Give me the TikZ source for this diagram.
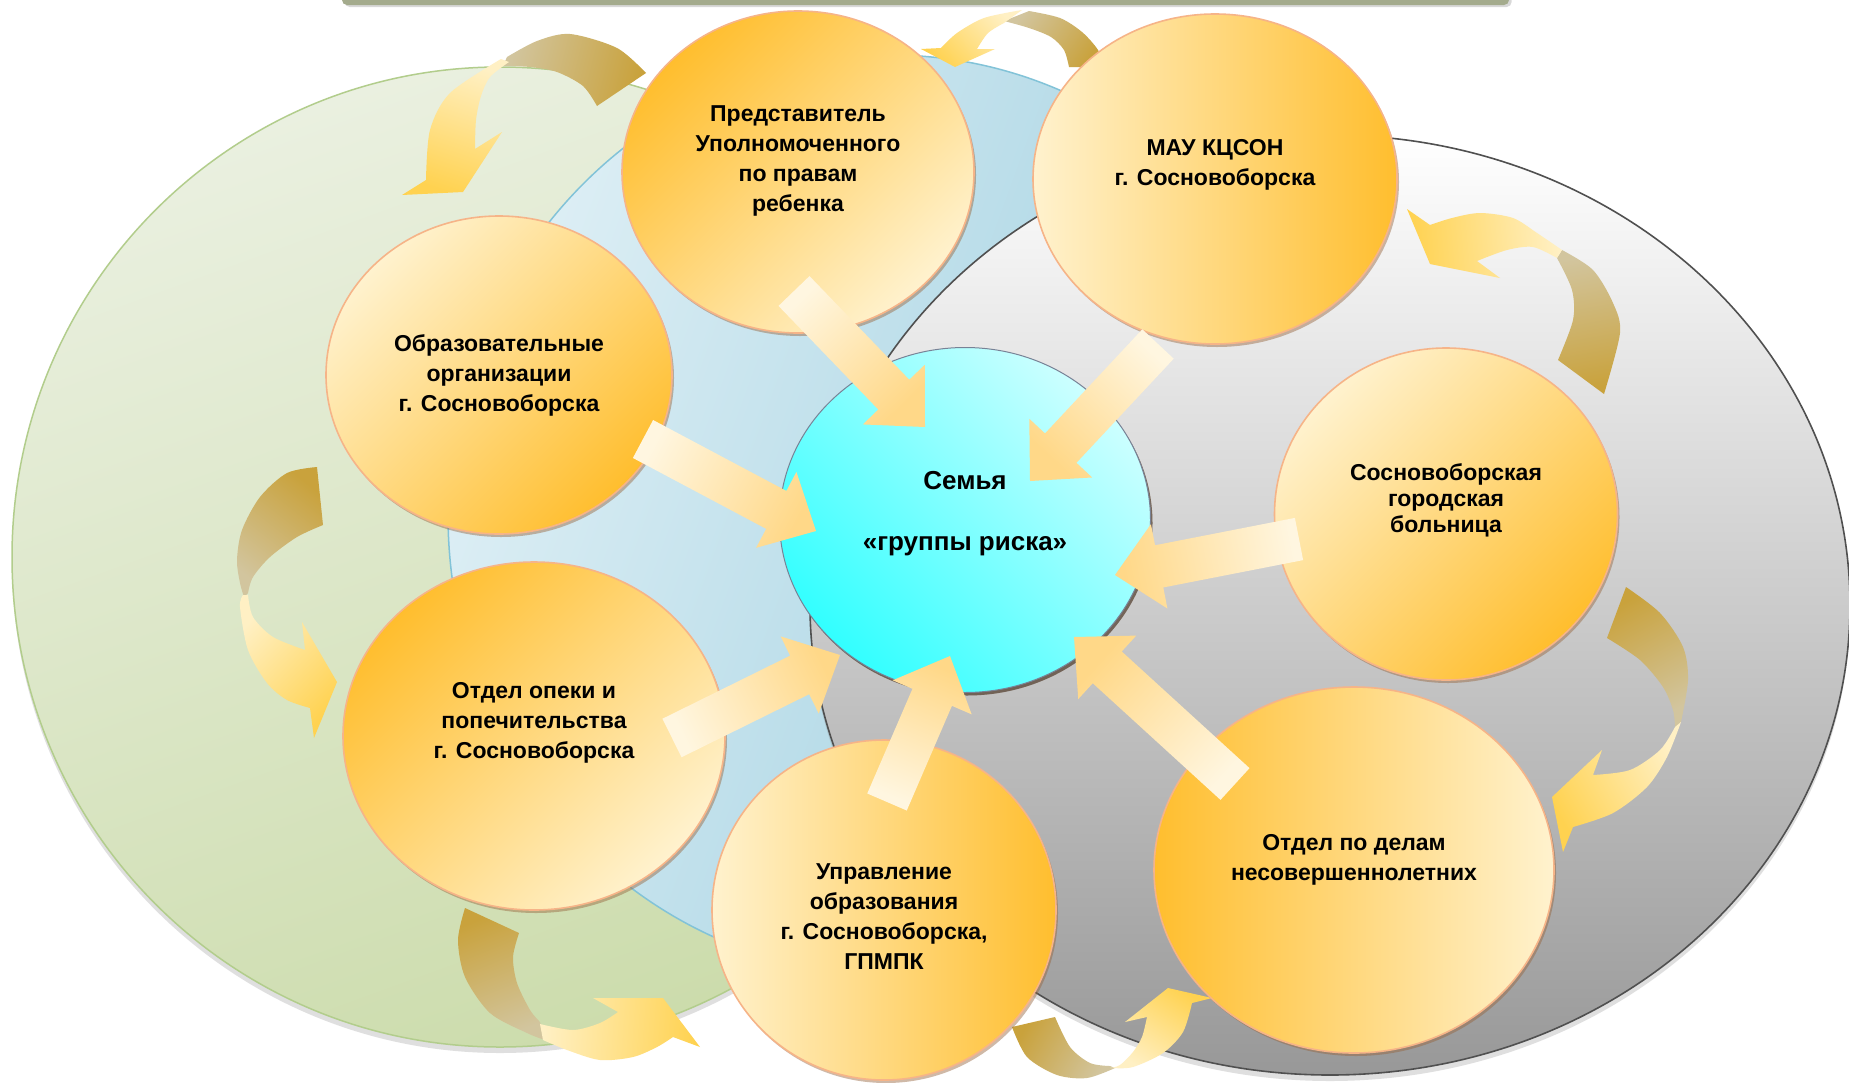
\documentclass[tikz,border=0pt]{standalone}
\usepackage{fontspec}
\setmainfont{Liberation Sans}
\usetikzlibrary{shapes.geometric,shadows,calc}

\definecolor{riskOrange}{RGB}{255,190,46}
\definecolor{riskCream}{RGB}{255,242,206}
\definecolor{riskEdge}{RGB}{246,180,136}
\definecolor{riskShadow}{RGB}{150,100,60}
\definecolor{riskCyan}{RGB}{50,255,255}
\definecolor{riskCyanLight}{RGB}{205,255,255}
\definecolor{riskCyanEdge}{RGB}{120,130,150}
\definecolor{riskGreenLight}{RGB}{234,240,224}
\definecolor{riskGreen}{RGB}{204,220,172}
\definecolor{riskGreenEdge}{RGB}{178,205,140}
\definecolor{riskBlueLight}{RGB}{222,239,245}
\definecolor{riskBlue}{RGB}{152,204,222}
\definecolor{riskBlueEdge}{RGB}{130,195,216}
\definecolor{riskGrey}{RGB}{152,152,152}
\definecolor{riskGreyEdge}{RGB}{80,80,80}
\definecolor{riskBar}{RGB}{164,171,141}
\definecolor{riskFlowTail}{RGB}{255,246,224}
\definecolor{riskFlowHead}{RGB}{255,216,136}
\definecolor{riskLoopBack}{RGB}{201,162,60}
\definecolor{riskLoopTan}{RGB}{210,197,158}
\definecolor{riskLoopPale}{RGB}{255,240,196}
\definecolor{riskLoopHead}{RGB}{255,210,80}

% text block raised inside its ellipse
\newcommand\lifted[2]{\raisebox{#1}[\height][\depth]{\begin{tabular}{@{}c@{}}#2\end{tabular}}}

% straight block arrow: tail, tip, shading angle
\newcommand\flowarrow[3]{%
  \path[flow, shading angle=#3]
    ($(#1)!21.5pt!90:(#2)$) -- ($(#2)!45pt!(#1)!21.5pt!-90:(#1)$) -- ($(#2)!45pt!(#1)!43pt!-90:(#1)$) -- (#2)
    -- ($(#2)!45pt!(#1)!43pt!90:(#1)$) -- ($(#2)!45pt!(#1)!21.5pt!90:(#1)$) -- ($(#1)!21.5pt!-90:(#2)$) -- cycle;}

\tikzset{
  agency/.style={ellipse, draw=riskEdge, line width=1.6pt, inner sep=0pt, text=black,
    font=\fontsize{23}{30}\selectfont\bfseries,
    drop shadow={shadow xshift=2pt, shadow yshift=-3pt, fill=riskShadow, opacity=.45}},
  orangeTL/.style={top color=riskOrange, bottom color=riskCream, shading angle=45},
  lightTL/.style={top color=riskCream, bottom color=riskOrange, shading angle=45},
  lightL/.style={left color=riskCream, right color=riskOrange},
  orangeL/.style={left color=riskOrange, right color=riskCream},
  flow/.style={top color=riskFlowHead, bottom color=riskFlowTail},
  loopback/.style={top color=riskLoopTan, bottom color=riskLoopBack},
  loopfront/.style={top color=riskLoopHead, bottom color=riskLoopPale}
}

\begin{document}
\begin{tikzpicture}[x=1pt, y=-1pt]
  \useasboundingbox (0,0) rectangle (1849,1082);
  \fill[white] (0,0) rectangle (1849,1082);

  % Top bar
  \fill[riskBar, rounded corners=5pt, drop shadow={shadow yshift=-2pt, opacity=.3}] (342,-12) rectangle (1509,5);

  % Backdrops
  \path[top color=riskGreenLight, bottom color=riskGreen, shading angle=20, draw=riskGreenEdge, line width=1.5pt,
    drop shadow={shadow xshift=0pt, shadow yshift=-6pt, opacity=.25}]
    (500,557) ellipse [x radius=488pt, y radius=490pt];
  \path[left color=riskBlueLight, right color=riskBlue, shading angle=70, draw=riskBlueEdge, line width=1.5pt]
    (890,515) ellipse [x radius=442pt, y radius=460pt];
  \path[top color=white, bottom color=riskGrey, draw=riskGreyEdge, line width=1.6pt,
    drop shadow={shadow xshift=0pt, shadow yshift=-6pt, opacity=.25}]
    (1330,605) ellipse [x radius=520pt, y radius=470pt];

  % Loop arrows between neighbours
  \path[loopback, shading angle=76] plot[smooth] coordinates {(646,73) (617,48) (570,34) (537,41) (507,57)}
    -- plot[smooth] coordinates {(503,66) (530,67) (557,72) (583,86) (597,106)} -- cycle;
  \path[loopfront, shading angle=162] plot[smooth] coordinates {(501,59) (450,93) (430,130) (426,180)}
    -- (402,195) -- (463,192) -- (502,132) -- plot[smooth] coordinates {(475,149) (476,120) (481,96) (490,77) (509,62)} -- cycle;

  \path[loopback, shading angle=55] plot[smooth] coordinates {(1104,67) (1098,50) (1082,32) (1060,18) (1029,11)}
    -- plot[smooth] coordinates {(1004,21) (1029,28) (1051,37) (1064,50) (1069,67)} -- cycle;
  \path[loopfront, shading angle=134] plot[smooth] coordinates {(1022,10) (984,18) (957,33) (941,48)}
    -- (921,49) -- (955,67) -- (995,49) -- plot[smooth] coordinates {(977,49) (988,33) (1004,23)} -- cycle;

  \path[loopback, shading angle=10] plot[smooth] coordinates {(1604,394) (1620,333) (1613,303) (1593,270) (1562,250)}
    -- plot[smooth] coordinates {(1557,258) (1572,290) (1573,320) (1558,360)} -- cycle;
  \path[loopfront, shading angle=95] plot[smooth] coordinates {(1562,250) (1537,233) (1513,218) (1480,213) (1452,218) (1430,225)}
    -- (1407,209) -- (1430,264) -- (1500,278) -- plot[smooth] coordinates {(1477,261) (1507,250) (1533,247) (1557,258)} -- cycle;

  \path[loopback, shading angle=-151] plot[smooth] coordinates {(1626,587) (1660,613) (1683,647) (1688,680) (1681,722)}
    -- plot[smooth] coordinates {(1675,727) (1673,710) (1663,687) (1640,660) (1607,638)} -- cycle;
  \path[loopfront, shading angle=120] plot[smooth] coordinates {(1681,722) (1667,757) (1647,787) (1613,813) (1573,827)}
    -- (1563,852) -- (1552,797) -- (1602,750) -- plot[smooth] coordinates {(1593,775) (1630,770) (1660,750) (1675,727)} -- cycle;

  \path[loopback, shading angle=-120] plot[smooth] coordinates {(1012,1027) (1027,1057) (1057,1075) (1087,1078) (1115,1068)}
    -- plot[smooth] coordinates {(1110,1066) (1090,1063) (1070,1047) (1055,1017)} -- cycle;
  \path[loopfront, shading angle=-34] plot[smooth] coordinates {(1113,1068) (1133,1067) (1163,1053) (1183,1032) (1192,1003)}
    -- (1212,998) -- (1168,988) -- (1125,1022) -- plot[smooth] coordinates {(1147,1017) (1142,1037) (1133,1052) (1120,1065) (1110,1068)} -- cycle;

  \path[loopback, shading angle=-158] plot[smooth] coordinates {(465,908) (458,940) (465,977) (490,1013) (527,1033) (545,1040)}
    -- plot[smooth] coordinates {(540,1022) (530,1010) (517,983) (513,957) (519,933)} -- cycle;
  \path[loopfront, shading angle=-94] plot[smooth] coordinates {(543,1040) (567,1050) (600,1060) (633,1057) (657,1047) (673,1037)}
    -- (700,1047) -- (663,998) -- (593,998) -- plot[smooth] coordinates {(618,1012) (600,1023) (573,1030) (540,1024)} -- cycle;

  \path[loopback, shading angle=142] plot[smooth] coordinates {(317,467) (287,473) (260,497) (242,530) (237,560) (240,583) (244,597)}
    -- plot[smooth] coordinates {(248,593) (253,577) (270,557) (297,537) (323,525)} -- cycle;
  \path[loopfront, shading angle=-133] plot[smooth] coordinates {(243,595) (240,607) (248,650) (267,683) (287,700) (310,708)}
    -- (314,738) -- (337,682) -- (302,622) -- plot[smooth] coordinates {(305,650) (273,637) (253,617) (248,595)} -- cycle;

  % Agencies
  \node[agency, orangeTL, minimum width=352pt, minimum height=322pt] (pred) at (798,172)
    {\lifted{12pt}{Представитель\\Уполномоченного\\по правам\\ребенка}};
  \node[agency, lightL, minimum width=364pt, minimum height=330pt] (mau) at (1215,179)
    {\lifted{15pt}{МАУ КЦСОН\\г. Сосновоборска}};
  \node[agency, lightTL, minimum width=346pt, minimum height=318pt] (obr) at (499,375)
    {\lifted{0pt}{Образовательные\\организации\\г. Сосновоборска}};
  \node[agency, lightTL, minimum width=343pt, minimum height=332pt, font=\fontsize{23}{26}\selectfont\bfseries] (bol) at (1446,514)
    {\lifted{13pt}{Сосновоборская\\городская\\больница}};
  \node[agency, orangeTL, minimum width=382pt, minimum height=348pt] (opeka) at (534,736)
    {\lifted{14pt}{Отдел опеки и\\попечительства\\г. Сосновоборска}};
  \node[agency, lightL, minimum width=344pt, minimum height=340pt] (upr) at (884,910)
    {\lifted{-8pt}{Управление\\образования\\г. Сосновоборска,\\ГПМПК}};
  \node[agency, orangeL, minimum width=400pt, minimum height=366pt] (otd) at (1354,870)
    {\lifted{11pt}{Отдел по делам\\несовершеннолетних}};

  % Family
  \node[agency, draw=riskCyanEdge, line width=1pt, top color=riskCyanLight, bottom color=riskCyan, shading angle=-45,
    minimum width=371pt, minimum height=345pt, font=\fontsize{26}{30.5}\selectfont\bfseries,
    drop shadow={shadow xshift=2pt, shadow yshift=-3pt, fill=black, opacity=.35}] (fam) at (965,520)
    {\lifted{6pt}{Семья\\ \\«группы риска»}};

  % Arrows to the family
  \coordinate (predTail) at (794,291);  \coordinate (predTip) at (925,427);
  \coordinate (mauTail) at (1158,344);  \coordinate (mauTip) at (1030,481);
  \coordinate (obrTail) at (643,439);   \coordinate (obrTip) at (816,531);
  \coordinate (bolTail) at (1299,539);  \coordinate (bolTip) at (1115,575);
  \coordinate (opekaTail) at (672,738); \coordinate (opekaTip) at (840,655);
  \coordinate (uprTail) at (887,802);   \coordinate (uprTip) at (950,656);
  \coordinate (otdTail) at (1235,784);  \coordinate (otdTip) at (1074,637);
  \flowarrow{predTail}{predTip}{-136}
  \flowarrow{mauTail}{mauTip}{137}
  \flowarrow{obrTail}{obrTip}{-118}
  \flowarrow{bolTail}{bolTip}{101}
  \flowarrow{opekaTail}{opekaTip}{-64}
  \flowarrow{uprTail}{uprTip}{-23}
  \flowarrow{otdTail}{otdTip}{48}
\end{tikzpicture}
\end{document}
